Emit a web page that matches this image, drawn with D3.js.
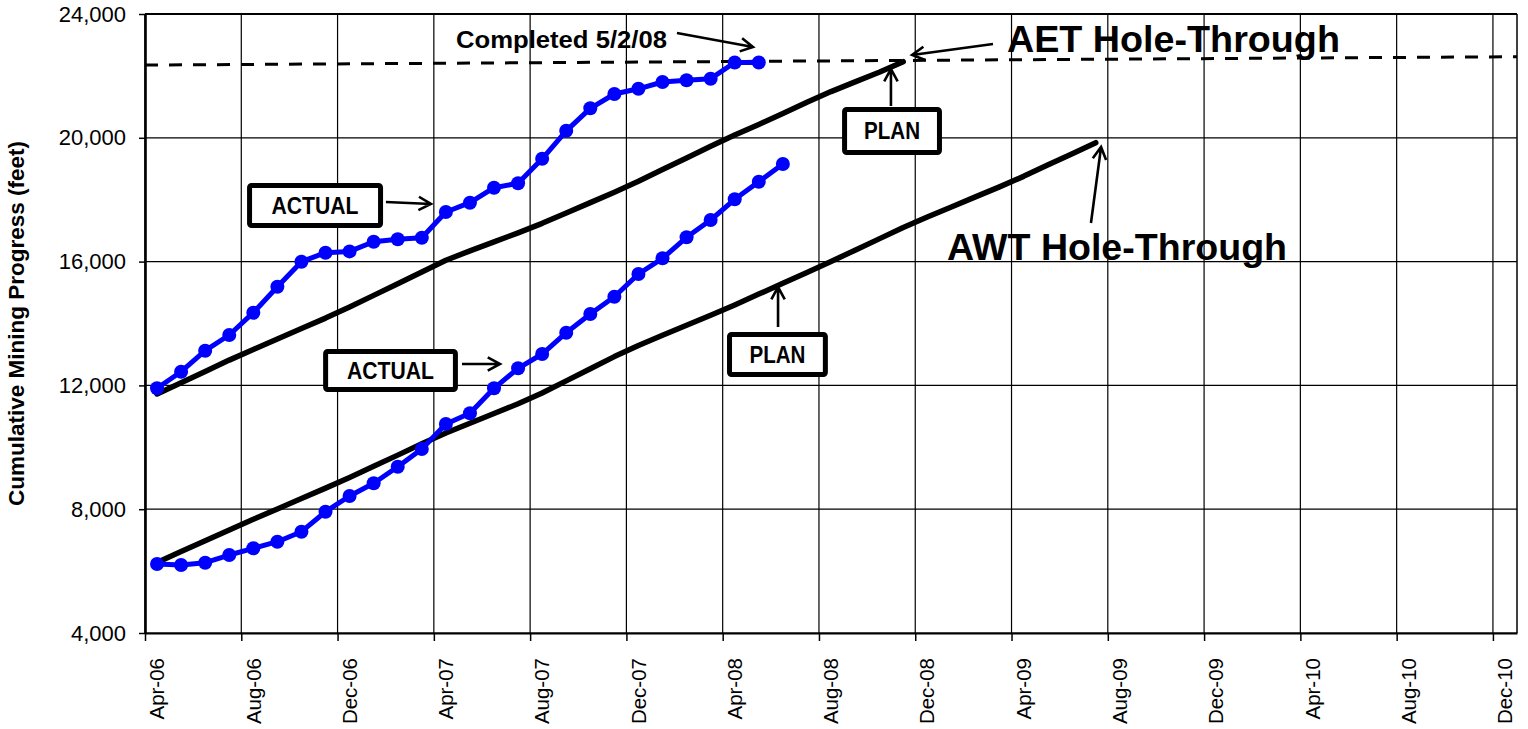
<!DOCTYPE html>
<html><head><meta charset="utf-8">
<script src="https://cdn.jsdelivr.net/npm/d3@7"></script>
<style>
body{margin:0;background:#fff}
svg{display:block}
text{font-family:"Liberation Sans",Arial,sans-serif}
</style>
</head><body><svg id="c" width="1528" height="729"></svg>
<script>
// ---- data ----
const tickLabels = ["Apr-06","Aug-06","Dec-06","Apr-07","Aug-07","Dec-07","Apr-08","Aug-08","Dec-08","Apr-09","Aug-09","Dec-09","Apr-10","Aug-10","Dec-10"];
const tickMonths = [0,4,8,12,16,20,24,28,32,36,40,44,48,52,56]; // months since Apr-06
const yTicks = [4000,8000,12000,16000,20000,24000];

// AET (upper) actual, monthly from Apr-06 to May-08
const aetActual = [11906,12443,13121,13628,14349,15189,15997,16288,16330,16643,16721,16770,17603,17903,18388,18530,19322,20226,20953,21415,21583,21803,21858,21910,22433,22433];
// AWT (lower) actual, monthly from Apr-06 to Jun-08
const awtActual = [6229,6197,6271,6520,6737,6950,7273,7919,8426,8837,9373,9945,10753,11098,11906,12552,13014,13702,14306,14865,15599,16106,16785,17344,18013,18581,19153];
// AET plan, monthly Apr-06 to Nov-08
const aetPlan = [11722,12087,12452,12817,13160,13502,13838,14174,14533,14908,15286,15664,16042,16346,16636,16927,17236,17570,17906,18242,18597,18975,19350,19729,20091,20433,20782,21150,21493,21806,22116,22459];
// AWT plan, monthly Apr-06 to Jul-09
const awtPlan = [6278,6630,6979,7330,7673,8009,8345,8681,9023,9385,9747,10111,10462,10776,11092,11406,11754,12145,12539,12930,13292,13618,13941,14264,14601,14950,15299,15648,16004,16369,16734,17099,17440,17767,18091,18414,18754,19118,19480,19842];
// hole-through target (dashed)
const targetMonths = [0,57];
const targetValues = [22350,22620];

// ---- layout ----
const L=145,R=1517,T=14,B=633;
const x = d3.scaleLinear().domain([0,57]).range([L,R]);
const y = d3.scaleLinear().domain([4000,24000]).range([B,T]);
const svg = d3.select("#c");

// gridlines
svg.append("g").selectAll("line").data(yTicks).join("line")
  .attr("x1",L).attr("x2",R).attr("y1",d=>y(d)).attr("y2",d=>y(d))
  .attr("stroke","#000").attr("stroke-width",1.2);
svg.append("g").selectAll("line").data(tickMonths).join("line")
  .attr("x1",d=>x(d)).attr("x2",d=>x(d)).attr("y1",T).attr("y2",B)
  .attr("stroke","#000").attr("stroke-width",1.2);
// border top / right
svg.append("line").attr("x1",L).attr("x2",R).attr("y1",T).attr("y2",T).attr("stroke","#000").attr("stroke-width",2.2);
svg.append("line").attr("x1",R).attr("x2",R).attr("y1",T).attr("y2",B).attr("stroke","#000").attr("stroke-width",1.5);

// axes
const yAxis = svg.append("g").attr("transform",`translate(${L},0)`)
  .call(d3.axisLeft(y).tickValues(yTicks).tickFormat(d3.format(",")).tickSize(6).tickSizeOuter(0).tickPadding(13));
yAxis.select(".domain").attr("stroke-width",2.6);
yAxis.selectAll(".tick line").attr("stroke-width",1.5);
yAxis.selectAll("text").attr("font-size",22).attr("font-family","Liberation Sans, Arial, sans-serif").attr("fill","#000");

const xAxis = svg.append("g").attr("transform",`translate(0,${B})`)
  .call(d3.axisBottom(x).tickValues(tickMonths).tickFormat("").tickSize(8).tickSizeOuter(0));
xAxis.select(".domain").attr("stroke-width",2.2);
xAxis.selectAll(".tick line").attr("stroke-width",1.5);

svg.append("g").selectAll("text").data(tickMonths).join("text")
  .attr("transform",d=>`translate(${x(d+0.5)},${B+25}) rotate(-90)`)
  .attr("text-anchor","end").attr("dy","0.35em").attr("font-size",20.5)
  .text((d,i)=>tickLabels[i]);

// y title
svg.append("text").attr("transform",`translate(24,${(T+B)/2}) rotate(-90)`)
  .attr("text-anchor","middle").attr("font-weight","bold").attr("font-size",22.5)
  .text("Cumulative Mining Progress (feet)");

// series
const lineIdx = d3.line().x((d,i)=>x(i+0.5)).y(d=>y(d));
const tgt = targetMonths.map((m,i)=>[m,targetValues[i]]);
svg.append("path").attr("d",d3.line().x(d=>x(d[0])).y(d=>y(d[1]))(tgt))
  .attr("fill","none").attr("stroke","#000").attr("stroke-width",3).attr("stroke-dasharray","13,11");

[aetPlan,awtPlan].forEach(s=>{
  svg.append("path").attr("d",lineIdx(s)).attr("fill","none").attr("stroke","#000")
    .attr("stroke-width",5.5).attr("stroke-linejoin","round").attr("stroke-linecap","round");
});
[aetActual,awtActual].forEach(s=>{
  svg.append("path").attr("d",lineIdx(s)).attr("fill","none").attr("stroke","#0000ff")
    .attr("stroke-width",5).attr("stroke-linejoin","round");
  svg.append("g").selectAll("circle").data(s).join("circle")
    .attr("cx",(d,i)=>x(i+0.5)).attr("cy",d=>y(d)).attr("r",7).attr("fill","#0000ff");
});

// annotations (in data coordinates: month index, feet)
const ann = svg.append("g");
function arrow(m1,v1,m2,v2){
  const x1=x(m1),y1=y(v1),x2=x(m2),y2=y(v2);
  const a=Math.atan2(y2-y1,x2-x1), h=14, s=0.5;
  ann.append("path").attr("d",`M${x1},${y1}L${x2},${y2}M${x2-h*Math.cos(a-s)},${y2-h*Math.sin(a-s)}L${x2},${y2}L${x2-h*Math.cos(a+s)},${y2-h*Math.sin(a+s)}`)
    .attr("fill","none").attr("stroke","#000").attr("stroke-width",2.6).attr("stroke-linejoin","miter");
}
function box(m1,v1,m2,v2,label,len){
  const x1=x(m1),y1=y(v1),x2=x(m2),y2=y(v2);
  ann.append("rect").attr("x",x1+2.5).attr("y",y1+2.5).attr("width",x2-x1-5).attr("height",y2-y1-5)
    .attr("rx",2).attr("fill","#fff").attr("stroke","#000").attr("stroke-width",5);
  ann.append("text").attr("x",(x1+x2)/2).attr("y",(y1+y2)/2).attr("dy","0.36em")
    .attr("text-anchor","middle").attr("font-family","Lato, 'Open Sans', sans-serif").attr("font-weight","bold")
    .attr("font-size",23).attr("textLength",len).attr("lengthAdjust","spacingAndGlyphs").text(label);
}
function label(m,v,txt,size,len){
  ann.append("text").attr("x",x(m)).attr("y",y(v)).attr("font-weight","bold").attr("font-size",size)
    .attr("textLength",len).attr("lengthAdjust","spacingAndGlyphs").text(txt);
}
label(12.92,22901,"Completed 5/2/08",24,211);
arrow(22.10,23386,25.26,22934);
label(35.81,22772,"AET Hole-Through",36,333);
arrow(35.23,23031,31.87,22675);
box(28.96,20995,33.11,19444,"PLAN",56);
arrow(30.99,21027,30.99,22223);
box(4.24,18540,9.89,17086,"ACTUAL",87);
arrow(10.01,17926,11.88,17861);
box(7.40,13177,13.0,11788,"ACTUAL",87);
arrow(13.17,12692,14.75,12692);
box(24.18,13725,28.37,12271,"PLAN",56);
arrow(26.30,13887,26.30,15179);
label(33.32,16052,"AWT Hole-Through",36,340);
arrow(39.30,17247,39.72,19703);
</script>
</body></html>
